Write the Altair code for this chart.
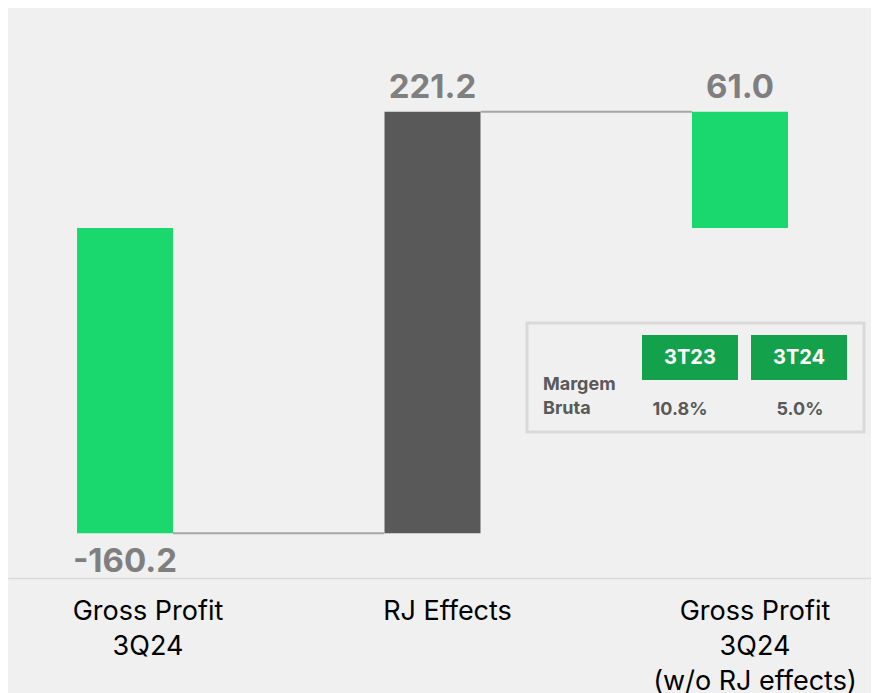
import altair as alt
import pandas as pd

# ---- data ----
categories = ["Gross Profit|3Q24", "RJ Effects", "Gross Profit|3Q24|(w/o RJ effects)"]
values = [-160.2, 221.2, 61.0]
kinds = ["total", "delta", "total"]
value_labels = ["-160.2", "221.2", "61.0"]
bar_colors = ["#1ad86d", "#595959", "#1ad86d"]

table_headers = ["3T23", "3T24"]
table_values = ["10.8%", "5.0%"]
table_row_label = ["Margem", "Bruta"]

# ---- waterfall table ----
rows = []
running = 0.0
for cat, v, k, lab, col in zip(categories, values, kinds, value_labels, bar_colors):
    if k == "total":
        start, end = 0.0, v
    else:
        start, end = running, running + v
    running = end
    rows.append(dict(cat=cat, start=start, end=end, label=lab, color=col,
                     above=end >= start))
df = pd.DataFrame(rows)

conn = pd.DataFrame([
    dict(cat=categories[i], nxt=categories[i + 1], y=rows[i]["end"])
    for i in range(len(categories) - 1)
])

FONT = "Inter"
x_scale = alt.Scale(domain=categories, paddingInner=0.6878, paddingOuter=0.2472, align=0.454)
y_scale = alt.Scale(domain=[-183.7, 115.5], nice=False, zero=False)

x_enc = alt.X(
    "cat:N", sort=categories, scale=x_scale,
    axis=alt.Axis(
        title=None, labelExpr="split(datum.label, '|')", labelAngle=0,
        ticks=False, grid=False, domainColor="#d9d9d9", domainWidth=1.5,
        labelColor="#000000", labelFont=FONT, labelFontSize=27,
        labelLineHeight=35, labelPadding=20, labelLimit=400,
        labelOffset={"condition": {"test": "datum.value === 'Gross Profit|3Q24'", "value": 23}, "value": 15},
    ),
)

bars = alt.Chart(df).mark_bar().encode(
    x=x_enc,
    y=alt.Y("start:Q", scale=y_scale, axis=None),
    y2="end:Q",
    color=alt.Color("color:N", scale=None),
)

connectors = alt.Chart(conn).mark_rule(color="#a6a6a6", strokeWidth=2).encode(
    x=alt.X("cat:N", sort=categories, scale=x_scale, bandPosition=1),
    x2=alt.X2("nxt", bandPosition=0),
    y=alt.Y("y:Q", scale=y_scale),
)

lab_above = alt.Chart(df).transform_filter("datum.above").mark_text(
    font=FONT, fontSize=33, fontWeight="bold", color="#7f7f7f", baseline="alphabetic", dy=-14
).encode(x=alt.X("cat:N", sort=categories, scale=x_scale), y=alt.Y("end:Q", scale=y_scale), text="label:N")

lab_below = alt.Chart(df).transform_filter("!datum.above").mark_text(
    font=FONT, fontSize=33, fontWeight="bold", color="#7f7f7f", baseline="alphabetic", dy=39
).encode(x=alt.X("cat:N", sort=categories, scale=x_scale), y=alt.Y("end:Q", scale=y_scale), text="label:N")

# ---- inset table (pixel layout) ----
one = pd.DataFrame({"k": [0]})
table_layers = [
    alt.Chart(one).mark_rect(filled=False, stroke="#d9d9d9", strokeWidth=3).encode(
        x=alt.value(519), x2=alt.value(856), y=alt.value(315), y2=alt.value(424))
]
header_x = [634, 743]
value_cx = [672, 792]
for h, hx in zip(table_headers, header_x):
    d = pd.DataFrame({"t": [h]})
    table_layers.append(alt.Chart(d).mark_rect(color="#13a24b").encode(
        x=alt.value(hx), x2=alt.value(hx + 96), y=alt.value(327), y2=alt.value(372)))
    table_layers.append(alt.Chart(d).mark_text(
        font=FONT, fontSize=20, fontWeight="bold", color="white", baseline="middle", align="center"
    ).encode(x=alt.value(hx + 48), y=alt.value(350), text="t:N"))
for v, cx in zip(table_values, value_cx):
    d = pd.DataFrame({"t": [v]})
    table_layers.append(alt.Chart(d).mark_text(
        font=FONT, fontSize=18, fontWeight="bold", color="#595959", baseline="alphabetic", align="center"
    ).encode(x=alt.value(cx), y=alt.value(407), text="t:N"))
for r, ry in zip(table_row_label, [382, 406]):
    d = pd.DataFrame({"t": [r]})
    table_layers.append(alt.Chart(d).mark_text(
        font=FONT, fontSize=18, fontWeight="bold", color="#595959", baseline="alphabetic", align="left"
    ).encode(x=alt.value(535), y=alt.value(ry), text="t:N"))

chart = alt.layer(bars, connectors, lab_above, lab_below, *table_layers).properties(
    width=863, height=570,
    background="#f0f0f0",
    padding={"left": 0, "top": 0, "right": 0, "bottom": 115},
    autosize=alt.AutoSizeParams(type="none"),
).configure_view(stroke=None)

chart.save("out.html", embed_options={"renderer": "svg", "actions": False})
